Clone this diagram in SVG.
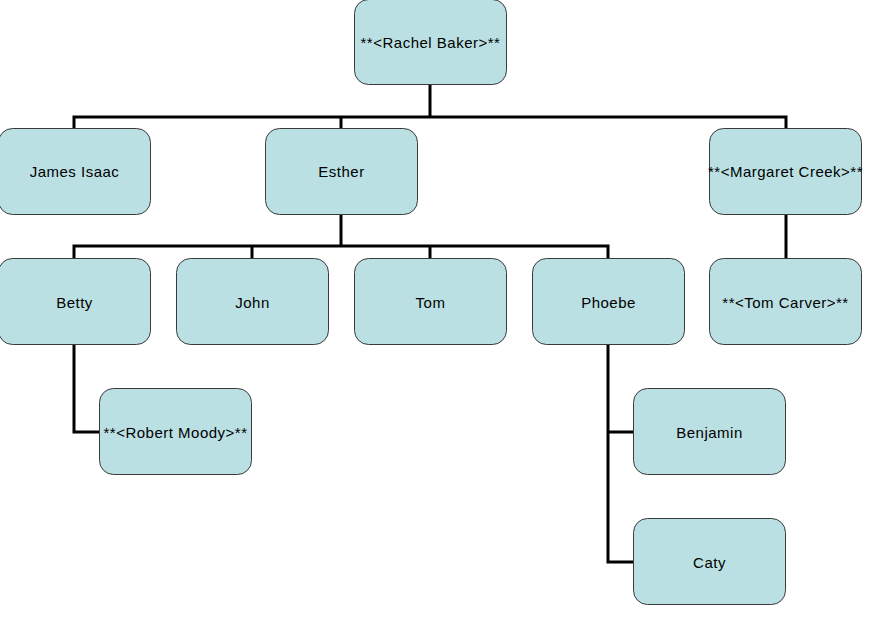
<svg xmlns="http://www.w3.org/2000/svg" width="869" height="617" viewBox="0 0 869 617">
<style>
.box{fill:#BBE0E3;stroke:#3a3a3a;stroke-width:1}
.lbl{font-family:"Liberation Sans",Arial,sans-serif;font-size:15px;letter-spacing:0.5px;fill:#000;text-anchor:middle;dominant-baseline:central}
.conn{fill:none;stroke:#000;stroke-width:3;stroke-linejoin:miter}
</style>
<rect width="869" height="617" fill="#fff"/>
<g id="connectors">
<path class="conn" d="M430,84 V117 M74,129 V117 H786 V129 M341,117 V129"/>
<path class="conn" d="M341,215 V246 M74,258 V246 H608 V258 M252,246 V258 M430,246 V258"/>
<path class="conn" d="M786,215 V258"/>
<path class="conn" d="M74,345 V432 H100"/>
<path class="conn" d="M608,345 V562 H633 M608,432 H633"/>
</g>
<g id="rachel"><rect class="box" x="354.5" y="-0.5" width="152" height="85" rx="14"/><text class="lbl" x="430.5" y="42">**&lt;Rachel Baker&gt;**</text></g>
<g id="james"><rect class="box" x="-1.5" y="128.5" width="152" height="86" rx="14"/><text class="lbl" x="74.5" y="171">James Isaac</text></g>
<g id="esther"><rect class="box" x="265.5" y="128.5" width="152" height="86" rx="14"/><text class="lbl" x="341.5" y="171">Esther</text></g>
<g id="margaret"><rect class="box" x="709.5" y="128.5" width="152" height="86" rx="14"/><text class="lbl" x="785.5" y="171">**&lt;Margaret Creek&gt;**</text></g>
<g id="betty"><rect class="box" x="-1.5" y="258.5" width="152" height="86" rx="14"/><text class="lbl" x="74.5" y="302">Betty</text></g>
<g id="john"><rect class="box" x="176.5" y="258.5" width="152" height="86" rx="14"/><text class="lbl" x="252.5" y="302">John</text></g>
<g id="tom"><rect class="box" x="354.5" y="258.5" width="152" height="86" rx="14"/><text class="lbl" x="430.5" y="302">Tom</text></g>
<g id="phoebe"><rect class="box" x="532.5" y="258.5" width="152" height="86" rx="14"/><text class="lbl" x="608.5" y="302">Phoebe</text></g>
<g id="tomcarver"><rect class="box" x="709.5" y="258.5" width="152" height="86" rx="14"/><text class="lbl" x="785.5" y="302">**&lt;Tom Carver&gt;**</text></g>
<g id="robert"><rect class="box" x="99.5" y="388.5" width="152" height="86" rx="14"/><text class="lbl" x="175.5" y="432">**&lt;Robert Moody&gt;**</text></g>
<g id="benjamin"><rect class="box" x="633.5" y="388.5" width="152" height="86" rx="14"/><text class="lbl" x="709.5" y="432">Benjamin</text></g>
<g id="caty"><rect class="box" x="633.5" y="518.5" width="152" height="86" rx="14"/><text class="lbl" x="709.5" y="562">Caty</text></g>
</svg>
